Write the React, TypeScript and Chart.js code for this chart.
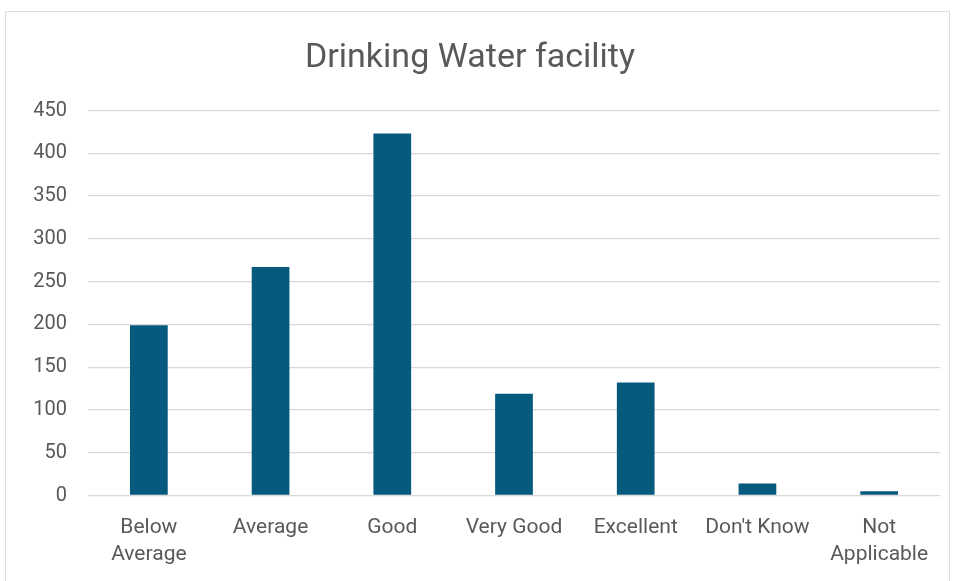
import React, { useEffect, useRef } from "react";
import { Chart, registerables } from "chart.js";

Chart.register(...registerables);

const titleText = "Drinking Water facility";
const categories: (string | string[])[] = [
  ["Below", "Average"],
  "Average",
  "Good",
  "Very Good",
  "Excellent",
  "Don't Know",
  ["Not", "Applicable"],
];
const values = [199, 267, 423, 119, 132, 14, 5];
const yMin = 0;
const yMax = 450;
const yStep = 50;

const barColor = "#055A7E";
const textColor = "#595959";
const gridColor = "#D9D9D9";
const fontFamily = "Roboto, 'Noto Sans', sans-serif";

export default function App() {
  const ref = useRef<HTMLCanvasElement | null>(null);

  useEffect(() => {
    document.body.style.margin = "0";
    if (!ref.current) return;
    const chart = new Chart(ref.current, {
      type: "bar",
      data: {
        labels: categories,
        datasets: [
          {
            data: values,
            backgroundColor: barColor,
            borderWidth: 0,
            barPercentage: 0.31,
            categoryPercentage: 1,
          },
        ],
      },
      options: {
        animation: false,
        responsive: false,
        maintainAspectRatio: false,
        layout: { padding: { left: 0, right: 17, top: 0, bottom: 0 } },
        plugins: {
          legend: { display: false },
          tooltip: { enabled: false },
          title: {
            display: true,
            text: titleText,
            color: textColor,
            font: { family: fontFamily, size: 34, weight: "normal", lineHeight: 1.2 },
            padding: { top: 38, bottom: 31.7 },
          },
        },
        scales: {
          x: {
            grid: { display: false, drawTicks: false },
            border: { display: false },
            ticks: {
              color: textColor,
              font: { family: fontFamily, size: 21, lineHeight: 1.29 },
              padding: 19,
              maxRotation: 0,
              autoSkip: false,
            },
            afterFit: (scale: any) => {
              scale.height = 85.5;
            },
          },
          y: {
            min: yMin,
            max: yMax,
            grid: { color: gridColor, lineWidth: 1.3, drawTicks: false },
            border: { display: false },
            ticks: {
              stepSize: yStep,
              color: textColor,
              font: { family: fontFamily, size: 20 },
              padding: 21,
            },
            afterFit: (scale: any) => {
              scale.width = 88;
            },
          },
        },
      },
    });
    return () => chart.destroy();
  }, []);

  return (
    <div style={{ position: "relative", width: 957, height: 581, background: "#fff", overflow: "hidden" }}>
      <div
        style={{
          position: "absolute",
          left: 5,
          top: 11,
          width: 945,
          height: 600,
          border: "1px solid #E3D9DC",
          boxSizing: "border-box",
        }}
      />
      <canvas ref={ref} width={957} height={581} style={{ position: "absolute", left: 0, top: 0, display: "block" }} />
    </div>
  );
}
